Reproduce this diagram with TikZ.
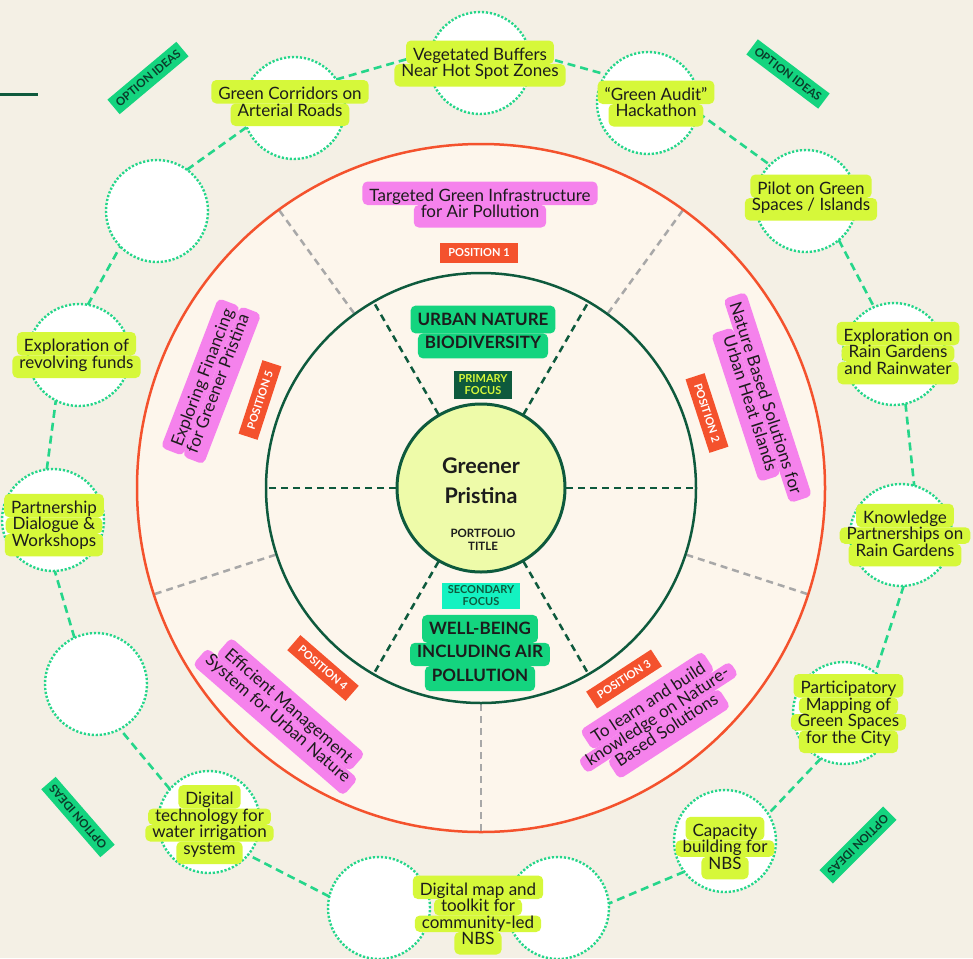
\documentclass[tikz,border=0pt]{standalone}
\usepackage{fontspec}
\setmainfont{Lato}
\usetikzlibrary{matrix}

\definecolor{paper}{HTML}{F4F0E5}
\definecolor{disc}{HTML}{FDF6EC}
\definecolor{ringred}{HTML}{F4522D}
\definecolor{forest}{HTML}{0E5A3D}
\definecolor{deepgreen}{HTML}{0A3D2A}
\definecolor{spokegray}{HTML}{A8A8A8}
\definecolor{mint}{HTML}{25D68A}
\definecolor{limefill}{HTML}{D6F83A}
\definecolor{orchid}{HTML}{F582EC}
\definecolor{leaf}{HTML}{14D47F}
\definecolor{aqua}{HTML}{14F2C1}
\definecolor{pale}{HTML}{EEFBA9}
\definecolor{ink}{HTML}{1C1C1C}

\newcommand\fsz[2]{\fontsize{#1}{#2}\selectfont}

\tikzset{
  idea/.style={circle, minimum size=102pt, inner sep=0pt, outer sep=0pt,
    fill=white, draw=mint, line width=2.4pt, dash pattern=on 2.2pt off 1.8pt},
  ringlink/.style={draw=mint, line width=2.6pt, dash pattern=on 8pt off 5pt},
  % one highlighted line of a label
  linebox/.style={rounded corners=5pt, inner xsep=7pt, inner ysep=0pt, outer sep=0pt,
    text height=12.5pt, text depth=4pt, font=\fsz{17}{17}, text=ink},
  toprow/.style={text height=19.5pt},
  botrow/.style={text depth=10pt},
  lbl/.style={matrix of nodes, inner sep=0pt, outer sep=0pt, row sep=0pt,
    nodes={linebox}, row 1/.style={nodes={toprow}}},
  limelbl/.style={lbl, nodes={fill=limefill}},
  focuslbl/.style={lbl, nodes={fill=leaf, font=\bfseries\fsz{17}{17},
      text height=15pt, text depth=8.3pt}},
  pline/.style={linebox, fill=orchid, anchor=base},
  postag/.style={fill=ringred, text=white, font=\bfseries\fsz{11}{11},
    inner xsep=8pt, inner ysep=0pt, minimum height=20pt},
  opttag/.style={fill=leaf, text=deepgreen, font=\bfseries\fsz{11.5}{11.5},
    minimum width=90pt, minimum height=19pt, inner sep=0pt},
  spoke/.style={line width=2.5pt, dash pattern=on 7pt off 5pt},
}

\begin{document}
\begin{tikzpicture}[x=1pt,y=1pt]
\useasboundingbox (0,0) rectangle (973,-958);
\fill[paper] (0,0) rectangle (973,-958);
\coordinate (C) at (481,-488);

% short rule in the corner
\coordinate (ruleL) at (0,-94);
\coordinate (ruleR) at (38,-94);
\draw[forest, line width=3pt] (ruleL) -- (ruleR);

% positions disc with its five sectors
\fill[disc] (C) circle[radius=344];
\foreach \a in {54,126,198,270,342}
  \draw[spoke, spokegray, shift={(C)}] (\a:216) -- (\a:343);
\draw[ringred, line width=2.5pt] (C) circle[radius=344];
\draw[forest, line width=2.5pt] (C) circle[radius=215];
\foreach \a in {0,60,...,300}
  \draw[spoke, forest, shift={(C)}] (\a:85) -- (\a:214);
\node (hub) [circle, minimum size=168pt, fill=pale, draw=forest, line width=3pt] at (C) {};

\node (title) [font=\bfseries\fsz{21.5}{30}, align=center, text=ink] at (481,-481) {Greener\\Pristina};
\node (subtitle) [font=\bfseries\fsz{11.5}{13.3}, align=center, text=ink] at (483,-540) {PORTFOLIO\\TITLE};

% focus areas
\matrix (urban) [focuslbl] at (483,-332) {URBAN NATURE\\ |[botrow]| BIODIVERSITY\\};
\node (primary) [fill=forest, text=limefill, font=\bfseries\fsz{11}{12}, align=center,
  minimum width=58pt, minimum height=28pt, inner sep=0pt] at (483,-385) {PRIMARY\\FOCUS};
\node (secondary) [fill=aqua, text=forest, font=\bfseries\fsz{11}{12}, align=center,
  minimum width=78pt, minimum height=26pt, inner sep=0pt] at (481,-596) {SECONDARY\\FOCUS};
\matrix (wellbeing) [focuslbl] at (480,-653) {WELL-BEING\\ INCLUDING AIR\\ |[botrow]| POLLUTION\\};

% position tags
\node (pos1) [postag] at (479,-253) {POSITION 1};
\node (pos2) [postag, rotate=-72] at (707,-413) {POSITION 2};
\node (pos3) [postag, rotate=33] at (624,-679) {POSITION 3};
\node (pos4) [postag, rotate=-41] at (323,-668) {POSITION 4};
\node (pos5) [postag, rotate=72] at (260,-400) {POSITION 5};

% position statements, one highlighted box per line
\begin{scope}[shift={(480,-204.5)}]
  \node (stmt1a) [pline, toprow] at (0,3.5) {Targeted Green Infrastructure};
  \node (stmt1b) [pline, botrow] at (0,-13) {for Air Pollution};
\end{scope}
\begin{scope}[shift={(757,-401)}, rotate=-72, transform shape]
  \node (stmt2a) [pline, toprow] at (0,3.5) {Nature Based Solutions for};
  \node (stmt2b) [pline, botrow] at (0,-13) {Urban Heat Islands};
\end{scope}
\begin{scope}[shift={(658,-717)}, rotate=33, transform shape]
  \node (stmt3a) [pline, toprow] at (0,11.75) {To learn and build};
  \node (stmt3b) [pline] at (0,-4.75) {knowledge on Nature-};
  \node (stmt3c) [pline, botrow] at (0,-21.25) {Based Solutions};
\end{scope}
\begin{scope}[shift={(283,-713)}, rotate=-41, transform shape]
  \node (stmt4a) [pline, toprow] at (0,3.5) {Efficient Management};
  \node (stmt4b) [pline, botrow] at (0,-13) {System for Urban Nature};
\end{scope}
\begin{scope}[shift={(211,-381)}, rotate=69, transform shape]
  \node (stmt5a) [pline, toprow] at (0,3.5) {Exploring Financing};
  \node (stmt5b) [pline, botrow] at (0,-13) {for Greener Pristina};
\end{scope}

% option tags
\node (opt1) [opttag, rotate=40] at (148,-78) {OPTION IDEAS};
\node (opt2) [opttag, rotate=-37] at (788,-74) {OPTION IDEAS};
\node (opt3) [opttag, rotate=131] at (78,-817) {OPTION IDEAS};
\node (opt4) [opttag, rotate=-135] at (858,-845) {OPTION IDEAS};

% ring of option circles
\node (cA) [idea] at (480,-63) {};
\node (cB) [idea] at (648,-103) {};
\node (cC) [idea] at (806,-201) {};
\node (cD) [idea] at (894,-354) {};
\node (cE) [idea] at (901,-535) {};
\node (cF) [idea] at (844,-713) {};
\node (cG) [idea] at (725,-841) {};
\node (cH) [idea] at (558,-908) {};
\node (cI) [idea] at (379,-908) {};
\node (cJ) [idea] at (209,-822) {};
\node (cK) [idea] at (96,-684) {};
\node (cL) [idea] at (53,-520) {};
\node (cM) [idea] at (79,-355) {};
\node (cN) [idea] at (157,-211) {};
\node (cO) [idea] at (294,-108) {};

\draw[ringlink] (cO.34) -- (cA.168);
\draw[ringlink] (cA.11) -- (cB.146);
\draw[ringlink] (cB.-11) -- (cC.135);
\draw[ringlink] (cC.-50) -- (cD.113);
\draw[ringlink] (cD.-77) -- (cE.75);
\draw[ringlink] (cE.-87) -- (cF.52);
\draw[ringlink] (cF.-117) -- (cG.32);
\draw[ringlink] (cG.-143) -- (cH.5);
\draw[ringlink] (cI.167) -- (cJ.-40);
\draw[ringlink] (cJ.140) -- (cK.-62);
\draw[ringlink] (cK.115) -- (cL.-88);
\draw[ringlink] (cL.97) -- (cM.-117);
\draw[ringlink] (cM.80) -- (cN.-136);
\draw[ringlink] (cN.54) -- (cO.-158);

% option labels
\matrix (lA) [limelbl] at (480,-63.5) {Vegetated Buffers\\ |[botrow]| Near Hot Spot Zones\\};
\matrix (lB) [limelbl] at (656,-103.5) {“Green Audit”\\ |[botrow]| Hackathon\\};
\matrix (lC) [limelbl] at (811,-197.5) {Pilot on Green\\ |[botrow]| Spaces / Islands\\};
\matrix (lD) [limelbl] at (898,-353) {Exploration on\\ Rain Gardens\\ |[botrow]| and Rainwater\\};
\matrix (lE) [limelbl] at (905,-535) {Knowledge\\ Partnerships on\\ |[botrow]| Rain Gardens\\};
\matrix (lF) [limelbl] at (848.5,-713.5) {Participatory\\ Mapping of\\ Green Spaces\\ |[botrow]| for the City\\};
\matrix (lG) [limelbl] at (725,-848) {Capacity\\ building for\\ |[botrow]| NBS\\};
\matrix (lH) [limelbl] at (478,-915) {Digital map and\\ toolkit for\\ community-led\\ |[botrow]| NBS\\};
\matrix (lJ) [limelbl] at (209.5,-824.5) {Digital\\ technology for\\ water irrigation\\ |[botrow]| system\\};
\matrix (lL) [limelbl] at (54,-525) {Partnership\\ Dialogue \&\\ |[botrow]| Workshops\\};
\matrix (lM) [limelbl] at (76.5,-355) {Exploration of\\ |[botrow]| revolving funds\\};
\matrix (lO) [limelbl] at (290,-103) {Green Corridors on\\ |[botrow]| Arterial Roads\\};
\end{tikzpicture}
\end{document}
